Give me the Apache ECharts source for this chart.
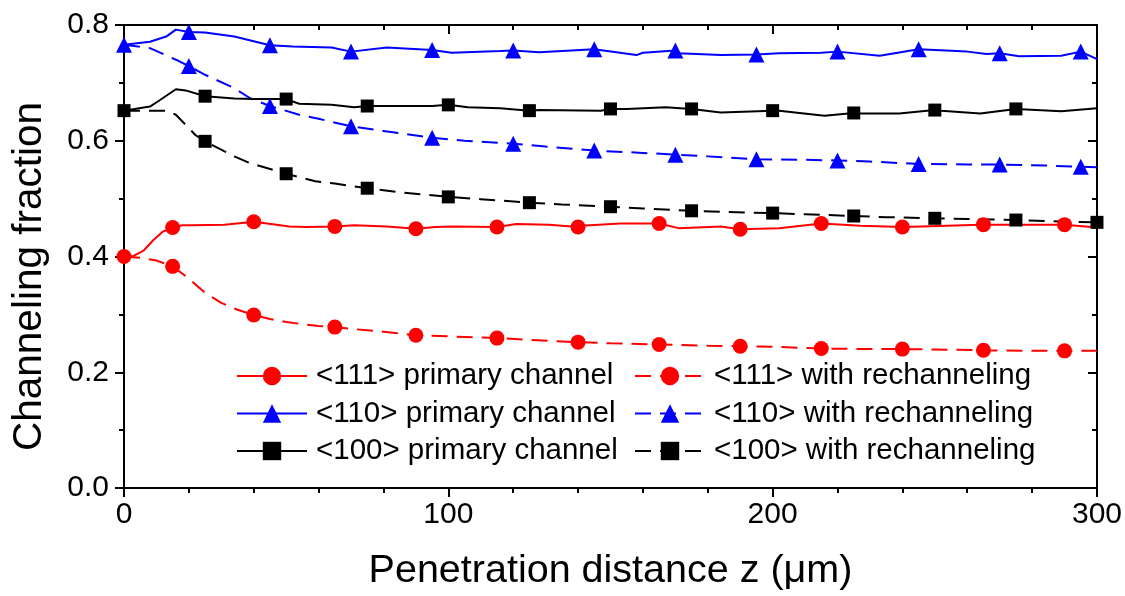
<!DOCTYPE html>
<html>
<head>
<meta charset="utf-8">
<script src="https://cdn.jsdelivr.net/npm/echarts@6/dist/echarts.min.js"></script>
<style>html,body{margin:0;padding:0;background:#fff}#c{width:1125px;height:596px}</style>
</head>
<body>
<div id="c"></div>
<script>
// x ticks / y ticks
const xTicks = [0, 100, 200, 300];
const yTicks = [0.0, 0.2, 0.4, 0.6, 0.8];

// <111> primary channel (red, solid)
const r1LineZ = [0, 3, 6, 9, 12, 18, 21, 31, 43, 51, 56, 71, 81, 96, 101, 121, 131, 141, 153, 171, 184, 202, 215, 227, 246, 264, 276, 289, 300];
const r1LineV = [0.400, 0.401, 0.410, 0.428, 0.443, 0.454, 0.454, 0.455, 0.458, 0.452, 0.451, 0.454, 0.452, 0.451, 0.452, 0.456, 0.455, 0.453, 0.457, 0.449, 0.452, 0.449, 0.457, 0.453, 0.452, 0.455, 0.455, 0.455, 0.450];
const r1MarkZ = [15, 40, 65, 90, 115, 140, 165, 190, 215, 240, 265, 290];
const r1MarkV = [0.450, 0.460, 0.452, 0.448, 0.451, 0.451, 0.457, 0.447, 0.457, 0.451, 0.455, 0.455];

// <111> with rechanneling (red, dashed)
const r2LineZ = [0, 5, 10, 20, 25, 30, 35, 45, 50, 55, 60, 70, 80, 100, 125, 150, 180, 200, 230, 255, 280, 300];
const r2LineV = [0.400, 0.398, 0.393, 0.362, 0.337, 0.320, 0.308, 0.292, 0.287, 0.283, 0.280, 0.275, 0.270, 0.262, 0.256, 0.250, 0.246, 0.244, 0.240, 0.239, 0.237, 0.237];
const r2MarkZ = [0, 15, 40, 65, 90, 115, 140, 165, 190, 215, 240, 265, 290];
const r2MarkV = [0.400, 0.383, 0.299, 0.278, 0.264, 0.259, 0.252, 0.248, 0.245, 0.241, 0.240, 0.238, 0.237];

// <110> primary channel (blue, solid)
const b1LineZ = [0, 8, 13, 16, 25, 34, 52, 64, 81, 101, 116, 128, 158, 160, 171, 184, 202, 215, 233, 260, 266, 276, 289, 300];
const b1LineV = [0.766, 0.771, 0.780, 0.792, 0.787, 0.780, 0.763, 0.761, 0.761, 0.752, 0.755, 0.753, 0.748, 0.752, 0.751, 0.748, 0.751, 0.752, 0.747, 0.754, 0.750, 0.746, 0.747, 0.741];
const b1MarkZ = [20, 45, 70, 95, 120, 145, 170, 195, 220, 245, 270, 295];
const b1MarkV = [0.788, 0.765, 0.754, 0.757, 0.756, 0.758, 0.756, 0.749, 0.754, 0.758, 0.751, 0.754];

// <110> with rechanneling (blue, dashed)
const b2LineZ = [8, 16, 25, 34, 39, 54, 60, 80, 105, 130, 160, 180, 210, 230, 260, 285, 300];
const b2LineV = [0.760, 0.740, 0.714, 0.691, 0.673, 0.645, 0.638, 0.617, 0.600, 0.590, 0.579, 0.573, 0.567, 0.564, 0.559, 0.557, 0.554];
const b2MarkZ = [0, 20, 45, 70, 95, 120, 145, 170, 195, 220, 245, 270, 295];
const b2MarkV = [0.766, 0.729, 0.660, 0.625, 0.605, 0.595, 0.583, 0.576, 0.568, 0.566, 0.560, 0.559, 0.555];

// <100> primary channel (black, solid)
const k1LineZ = [0, 8, 11, 16, 19, 34, 40, 54, 64, 71, 85, 95, 106, 116, 128, 147, 155, 167, 184, 202, 216, 227, 239, 252, 264, 289, 300];
const k1LineV = [0.652, 0.659, 0.670, 0.689, 0.687, 0.673, 0.672, 0.664, 0.662, 0.658, 0.660, 0.660, 0.658, 0.656, 0.653, 0.652, 0.655, 0.658, 0.649, 0.652, 0.643, 0.647, 0.647, 0.652, 0.647, 0.651, 0.656];
const k1MarkZ = [25, 50, 75, 100, 125, 150, 175, 200, 225, 250, 275];
const k1MarkV = [0.677, 0.672, 0.660, 0.662, 0.652, 0.655, 0.655, 0.652, 0.648, 0.653, 0.655];

// <100> with rechanneling (black, dashed)
const k2LineZ = [5, 10, 13, 16, 22, 34, 39, 59, 65, 85, 110, 135, 160, 185, 210, 235, 260, 285];
const k2LineV = [0.652, 0.652, 0.652, 0.645, 0.610, 0.573, 0.561, 0.530, 0.526, 0.511, 0.499, 0.490, 0.483, 0.477, 0.473, 0.468, 0.465, 0.461];
const k2MarkZ = [0, 25, 50, 75, 100, 125, 150, 175, 200, 225, 250, 275, 300];
const k2MarkV = [0.652, 0.599, 0.543, 0.518, 0.503, 0.493, 0.486, 0.479, 0.475, 0.470, 0.466, 0.463, 0.459];

const names = ['<111> primary channel', '<111> with rechanneling', '<110> primary channel', '<110> with rechanneling', '<100> primary channel', '<100> with rechanneling'];

function build(lz, lv, mz, mv) {
  const pts = [];
  const marked = new Set(mz);
  lz.forEach((z, i) => { if (!marked.has(z)) pts.push({ value: [z, lv[i]], symbol: 'none' }); });
  mz.forEach((z, i) => pts.push({ value: [z, mv[i]] }));
  pts.sort((a, b) => a.value[0] - b.value[0]);
  return pts;
}

const FONT = "'Liberation Sans', Arial, sans-serif";
function mkSeries(name, color, dashed, symbol, size, data) {
  return {
    name, type: 'line', data, symbol, symbolSize: size, showAllSymbol: true,
    smooth: false, animation: false,
    lineStyle: { color, width: 2, type: dashed ? [16, 9] : 'solid' },
    itemStyle: { color, borderWidth: 0 },
    emphasis: { disabled: true }
  };
}

const series = [
  mkSeries(names[0], '#ff0000', false, 'circle', 15, build(r1LineZ, r1LineV, r1MarkZ, r1MarkV)),
  mkSeries(names[1], '#ff0000', true, 'circle', 15, build(r2LineZ, r2LineV, r2MarkZ, r2MarkV)),
  mkSeries(names[2], '#0000ff', false, 'triangle', 16, build(b1LineZ, b1LineV, b1MarkZ, b1MarkV)),
  mkSeries(names[3], '#0000ff', true, 'triangle', 16, build(b2LineZ, b2LineV, b2MarkZ, b2MarkV)),
  mkSeries(names[4], '#000000', false, 'rect', 13, build(k1LineZ, k1LineV, k1MarkZ, k1MarkV)),
  mkSeries(names[5], '#000000', true, 'rect', 13, build(k2LineZ, k2LineV, k2MarkZ, k2MarkV))
];

const axisLine = { show: true, onZero: false, lineStyle: { color: '#000', width: 2 } };
const legendCommon = {
  orient: 'vertical', top: 361, padding: 0, itemWidth: 70, itemHeight: 23, itemGap: 7.5,
  textStyle: { fontFamily: FONT, fontSize: 29.5, color: '#000', lineHeight: 30, padding: [0, 0, 0, 4] },
  selectedMode: false
};

const chart = echarts.init(document.getElementById('c'), null, { renderer: 'canvas' });
chart.setOption({
  backgroundColor: '#fff',
  animation: false,
  grid: { left: 124, right: 28, top: 25, bottom: 107, containLabel: false },
  legend: [
    Object.assign({}, legendCommon, { left: 236, data: [names[0], names[2], names[4]] }),
    Object.assign({}, legendCommon, { left: 634, data: [names[1], names[3], names[5]] })
  ],
  xAxis: [
    {
      type: 'value', position: 'bottom', min: xTicks[0], max: xTicks[xTicks.length - 1], interval: xTicks[1] - xTicks[0],
      name: 'Penetration distance z (μm)', nameLocation: 'middle', nameGap: 63,
      nameTextStyle: { fontFamily: FONT, fontSize: 39.5, color: '#000' },
      axisLine, axisTick: { show: true, inside: false, length: 9, lineStyle: { color: '#000', width: 2 } },
      minorTick: { show: true, splitNumber: 5, length: 5, lineStyle: { color: '#000', width: 2 } },
      axisLabel: { fontFamily: FONT, fontSize: 30, color: '#000', margin: 12 },
      splitLine: { show: false }, minorSplitLine: { show: false }
    },
    {
      type: 'value', position: 'top', min: xTicks[0], max: xTicks[xTicks.length - 1], interval: xTicks[1] - xTicks[0],
      axisLine, axisTick: { show: true, inside: true, length: 9, lineStyle: { color: '#000', width: 2 } },
      minorTick: { show: true, splitNumber: 5, length: 5, lineStyle: { color: '#000', width: 2 } },
      axisLabel: { show: false }, splitLine: { show: false }
    }
  ],
  yAxis: [
    {
      type: 'value', position: 'left', min: yTicks[0], max: yTicks[yTicks.length - 1], interval: yTicks[1] - yTicks[0],
      name: 'Channeling fraction', nameLocation: 'middle', nameGap: 74,
      nameTextStyle: { fontFamily: FONT, fontSize: 40.5, color: '#000', padding: [0, 40, 0, 0] },
      axisLine, axisTick: { show: true, inside: false, length: 9, lineStyle: { color: '#000', width: 2 } },
      minorTick: { show: true, splitNumber: 2, length: 5, lineStyle: { color: '#000', width: 2 } },
      axisLabel: { fontFamily: FONT, fontSize: 30, color: '#000', margin: 15, formatter: v => v.toFixed(1) },
      splitLine: { show: false }, minorSplitLine: { show: false }
    },
    {
      type: 'value', position: 'right', min: yTicks[0], max: yTicks[yTicks.length - 1], interval: yTicks[1] - yTicks[0],
      axisLine, axisTick: { show: true, inside: true, length: 9, lineStyle: { color: '#000', width: 2 } },
      minorTick: { show: true, splitNumber: 2, length: 5, lineStyle: { color: '#000', width: 2 } },
      axisLabel: { show: false }, splitLine: { show: false }
    }
  ],
  series
});
</script>
</body>
</html>
